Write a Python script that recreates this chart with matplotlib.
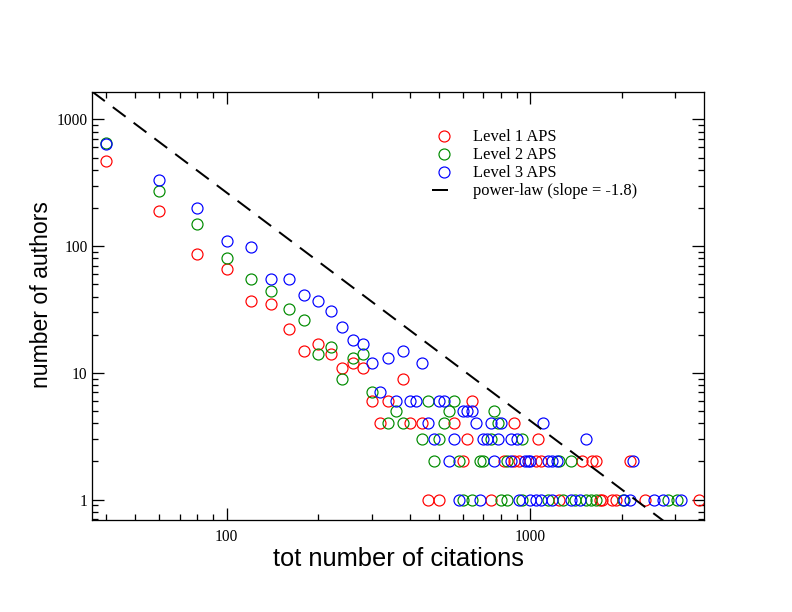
import numpy as np
import matplotlib
matplotlib.use("Agg")
import matplotlib.pyplot as plt
from matplotlib.ticker import LogLocator, NullFormatter, FixedLocator, FixedFormatter

# total citations (bins of 20) and number of authors
red_x = [40, 60, 80, 100, 120, 140, 160, 180, 200, 220, 240, 260, 280, 300, 320, 340,
         380, 400, 440, 560, 620, 640, 880, 1060,
         600, 820, 880, 920, 1040, 1080, 1480, 1600, 1640, 2120,
         460, 500, 740, 1240, 1700, 1720, 1860, 1920, 2380, 3580]
red_y = [470, 190, 87, 66, 37, 35, 22, 15, 17, 14, 11, 12, 11, 6, 4, 6,
         9, 4, 4, 4, 3, 6, 4, 3,
         2, 2, 2, 2, 2, 2, 2, 2, 2, 2,
         1, 1, 1, 1, 1, 1, 1, 1, 1, 1]

green_x = [40, 60, 80, 100, 120, 140, 160, 180, 200, 220, 240, 260, 280, 300, 340,
           360, 380, 440, 460, 500, 520, 540, 560, 740, 760, 780, 940,
           480, 580, 680, 700, 840, 1240, 1360,
           600, 640, 800, 840, 940, 1140, 1280, 1400, 1520, 1580, 1640, 2020, 2840, 3040]
green_y = [650, 270, 150, 80, 55, 44, 32, 26, 14, 16, 9, 13, 14, 7, 4,
           5, 4, 3, 6, 3, 4, 5, 6, 3, 5, 4, 3,
           2, 2, 2, 2, 2, 2, 2,
           1, 1, 1, 1, 1, 1, 1, 1, 1, 1, 1, 1, 1, 1]

blue_x = [40, 60, 80, 100, 120, 140, 160, 180, 200, 220, 240, 260, 280, 300, 320,
          340, 360, 380, 400, 420, 440, 460, 480, 500, 520, 560, 600, 620, 640,
          660, 700, 720, 740, 780, 800, 860, 900, 1100, 1520,
          540, 760, 860, 960, 980, 1000, 1140, 1180, 1220, 2180,
          580, 680, 920, 1000, 1040, 1080, 1180, 1360, 1460, 2040, 2120, 2560, 2740, 3140]
blue_y = [640, 330, 200, 110, 98, 55, 55, 41, 37, 31, 23, 18, 17, 12, 7,
          13, 6, 15, 6, 6, 12, 4, 3, 6, 6, 3, 5, 5, 5,
          4, 3, 3, 4, 3, 4, 3, 3, 4, 3,
          2, 2, 2, 2, 2, 2, 2, 2, 2, 2,
          1, 1, 1, 1, 1, 1, 1, 1, 1, 1, 1, 1, 1, 1]

# power-law guide line
pl_slope = -1.8
pl_amp = 1.05e6

x_lim = (36, 3730)
y_lim = (0.69, 1650)


def main():
    fig = plt.figure(figsize=(11, 8.5), dpi=72)
    ax = fig.add_axes([0.1162, 0.1503, 0.7727, 0.6997])

    mk = dict(marker='o', linestyle='none', markerfacecolor='none',
              markersize=11, markeredgewidth=1.2)
    ax.plot(red_x, red_y, color='#ff0000', label='Level 1 APS', **mk)
    ax.plot(green_x, green_y, color='#008b00', label='Level 2 APS', **mk)
    ax.plot(blue_x, blue_y, color='#0000ff', label='Level 3 APS', **mk)

    xx = np.array(x_lim)
    ax.plot(xx, pl_amp * xx ** pl_slope, color='black', linewidth=2,
            dashes=(8, 5), label='power-law (slope = -1.8)')

    ax.set_xscale('log')
    ax.set_yscale('log')
    ax.set_xlim(*x_lim)
    ax.set_ylim(*y_lim)

    ax.xaxis.set_major_locator(FixedLocator([100, 1000]))
    ax.xaxis.set_major_formatter(FixedFormatter(['100', '1000']))
    ax.yaxis.set_major_locator(FixedLocator([1, 10, 100, 1000]))
    ax.yaxis.set_major_formatter(FixedFormatter(['1', '10', '100', '1000']))
    for axis in (ax.xaxis, ax.yaxis):
        axis.set_minor_locator(LogLocator(base=10, subs=np.arange(2, 10)))
        axis.set_minor_formatter(NullFormatter())

    ax.tick_params(which='both', direction='in', top=True, right=True, width=1.3)
    ax.tick_params(which='major', length=12, labelsize=15.5)
    ax.tick_params(which='minor', length=6)
    ax.tick_params(axis='x', which='major', pad=9)
    ax.tick_params(axis='y', which='major', pad=4.5)
    for lab in ax.get_xticklabels() + ax.get_yticklabels():
        lab.set_family('Liberation Serif')
    for sp in ax.spines.values():
        sp.set_linewidth(1.3)

    ax.set_xlabel('tot number of citations', family='Liberation Sans', fontsize=25.5, labelpad=2)
    ax.set_ylabel('number of authors', family='Liberation Sans', fontsize=23)
    ax.yaxis.set_label_coords(-0.0637, 0.526)

    ax.legend(loc='upper left', bbox_to_anchor=(0.5556, 0.912), frameon=False,
              prop={'family': 'Liberation Serif', 'size': 16.5}, borderpad=0,
              handlelength=1.5, handletextpad=1.0, labelspacing=0.12,
              borderaxespad=0)

    fig.savefig('out.png', dpi=72)


if __name__ == "__main__":
    main()
